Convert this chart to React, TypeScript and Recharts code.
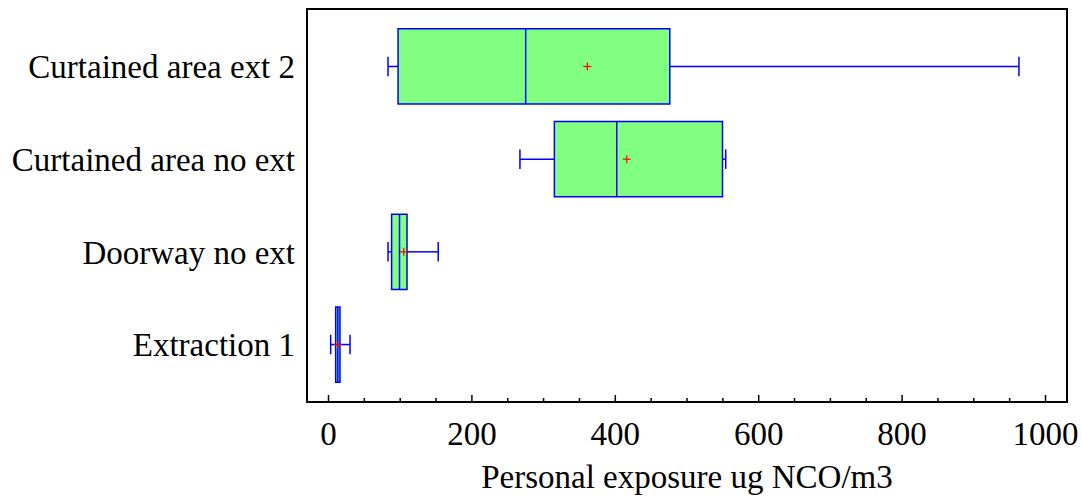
import React from "react";
import {
  ScatterChart,
  Scatter,
  XAxis,
  YAxis,
  ReferenceArea,
  ReferenceLine,
} from "recharts";

const categories = [
  "Extraction 1",
  "Doorway no ext",
  "Curtained area no ext",
  "Curtained area ext 2",
];
const positions = [1, 2, 3, 4];
const whiskerMin = [3, 83, 267, 83];
const q1 = [10, 88, 315, 97];
const median = [13, 99, 402, 275];
const q3 = [16, 109.5, 549.5, 476];
const whiskerMax = [30, 153, 554, 963];
const means = [13, 105, 416, 361];

const xTicks = [
  0, 50, 100, 150, 200, 250, 300, 350, 400, 450, 500, 550, 600, 650, 700, 750,
  800, 850, 900, 950, 1000,
];
const xLabelTicks = [0, 200, 400, 600, 800, 1000];
const xDomain = [-30, 1030];
const yDomain = [0.38, 4.62];
const xTitle = "Personal exposure ug NCO/m3";

const FONT = "'Liberation Serif', 'Times New Roman', serif";
const FS = 33;
const BOX_HALF = 0.406;
const CAP_HALF = 0.105;
const BLUE = "#0000FF";
const GREEN = "#80FF80";

const meanData = positions.map((p, i) => ({ x: means[i], y: p }));

const BottomTick = (props: any) => {
  const { x, y, payload } = props;
  const v = payload.value;
  const major = xLabelTicks.includes(v);
  return (
    <g>
      <line x1={x} x2={x} y1={y} y2={y - (major ? 7 : 4)} stroke="#000" strokeWidth={1.5} />
      {major && (
        <text x={x} y={y + 42.5} textAnchor="middle" fontFamily={FONT} fontSize={FS} fill="#000">
          {v}
        </text>
      )}
    </g>
  );
};

const TopTick = (props: any) => {
  const { x, y, payload } = props;
  const major = xLabelTicks.includes(payload.value);
  return (
    <line x1={x} x2={x} y1={y} y2={y + (major ? 7 : 4)} stroke="#000" strokeWidth={1.5} />
  );
};

const MeanShape = (props: any) => {
  const { cx, cy } = props;
  return (
    <g>
      <line x1={cx - 4} x2={cx + 4} y1={cy} y2={cy} stroke="#FF0000" strokeWidth={1.2} />
      <line x1={cx} x2={cx} y1={cy - 4} y2={cy + 4} stroke="#FF0000" strokeWidth={1.2} />
    </g>
  );
};

const CSS = `
html{overflow:hidden}
body{margin:8px 0 0 8px}
#root{width:1074px}
.recharts-wrapper{overflow:visible!important;max-width:none!important}
.recharts-surface{overflow:visible!important;max-width:none!important}
`;

export default function App() {
  return (
    <div style={{ width: 1074 }}>
      <style>{CSS}</style>
      <ScatterChart
        width={1074}
        height={490}
        margin={{ top: 1, right: 15, bottom: 0, left: 0 }}
      >
        <XAxis
          type="number"
          dataKey="x"
          domain={xDomain}
          ticks={xTicks}
          interval={0}
          tickSize={0}
          tickMargin={0}
          tickLine={false}
          axisLine={false}
          tick={<BottomTick />}
          height={96}
          allowDataOverflow
          label={{
            value: xTitle,
            position: "insideBottom",
            offset: 10,
            style: { fontFamily: FONT, fontSize: FS, fill: "#000" },
          }}
        />
        <XAxis
          xAxisId="top"
          orientation="top"
          type="number"
          dataKey="x"
          domain={xDomain}
          ticks={xTicks}
          interval={0}
          tickSize={0}
          tickMargin={0}
          tickLine={false}
          axisLine={false}
          tick={<TopTick />}
          height={0}
          allowDataOverflow
        />
        <YAxis
          type="number"
          dataKey="y"
          domain={yDomain}
          ticks={positions}
          interval={0}
          tickSize={0}
          tickMargin={12}
          tickLine={false}
          axisLine={false}
          width={299}
          allowDataOverflow
          tickFormatter={(v: number) => categories[positions.indexOf(v)] ?? ""}
          tick={{ fontFamily: FONT, fontSize: FS, fill: "#000" }}
        />
        <ReferenceArea
          x1={xDomain[0]}
          x2={xDomain[1]}
          y1={yDomain[0]}
          y2={yDomain[1]}
          fill="none"
          fillOpacity={0}
          stroke="#000"
          strokeWidth={2}
          ifOverflow="visible"
        />
        {positions.map((p, i) => (
          <ReferenceLine
            key={`wl${i}`}
            segment={[
              { x: whiskerMin[i], y: p },
              { x: q1[i], y: p },
            ]}
            stroke={BLUE}
            strokeWidth={1.5}
          />
        ))}
        {positions.map((p, i) => (
          <ReferenceLine
            key={`wr${i}`}
            segment={[
              { x: q3[i], y: p },
              { x: whiskerMax[i], y: p },
            ]}
            stroke={BLUE}
            strokeWidth={1.5}
          />
        ))}
        {positions.map((p, i) => (
          <ReferenceLine
            key={`cl${i}`}
            segment={[
              { x: whiskerMin[i], y: p - CAP_HALF },
              { x: whiskerMin[i], y: p + CAP_HALF },
            ]}
            stroke={BLUE}
            strokeWidth={1.5}
          />
        ))}
        {positions.map((p, i) => (
          <ReferenceLine
            key={`cr${i}`}
            segment={[
              { x: whiskerMax[i], y: p - CAP_HALF },
              { x: whiskerMax[i], y: p + CAP_HALF },
            ]}
            stroke={BLUE}
            strokeWidth={1.5}
          />
        ))}
        {positions.map((p, i) => (
          <ReferenceArea
            key={`box${i}`}
            x1={q1[i]}
            x2={q3[i]}
            y1={p - BOX_HALF}
            y2={p + BOX_HALF}
            fill={GREEN}
            fillOpacity={1}
            stroke={BLUE}
            strokeWidth={1.5}
          />
        ))}
        {positions.map((p, i) => (
          <ReferenceLine
            key={`med${i}`}
            segment={[
              { x: median[i], y: p - BOX_HALF },
              { x: median[i], y: p + BOX_HALF },
            ]}
            stroke={BLUE}
            strokeWidth={1.5}
          />
        ))}
        <Scatter data={meanData} shape={<MeanShape />} isAnimationActive={false} />
      </ScatterChart>
    </div>
  );
}
